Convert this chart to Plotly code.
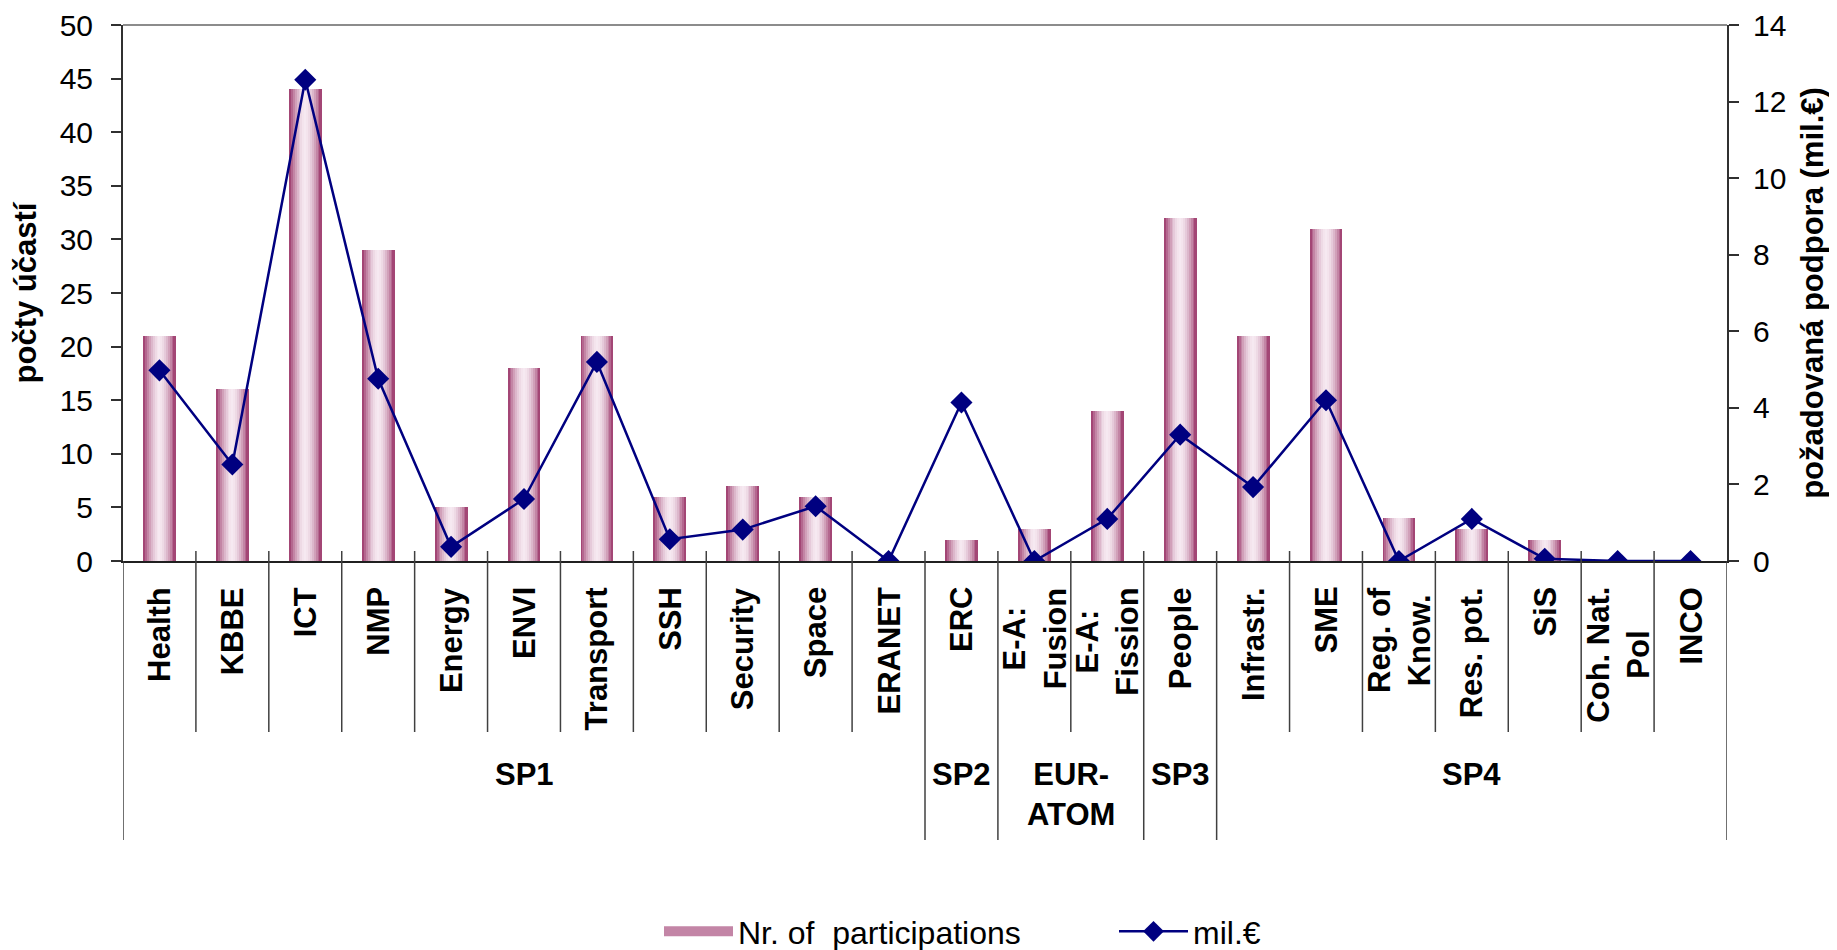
import plotly.graph_objects as go

# ---- data ----
categories = [
    "Health", "KBBE", "ICT", "NMP", "Energy", "ENVI", "Transport", "SSH",
    "Security", "Space", "ERANET", "ERC", "E-A:\nFusion", "E-A:\nFission",
    "People", "Infrastr.", "SME", "Reg. of\nKnow.", "Res. pot.", "SiS",
    "Coh. Nat.\nPol", "INCO",
]
participations = [21, 16, 44, 29, 5, 18, 21, 6, 7, 6, 0, 2, 3, 14, 32, 21, 31, 4, 3, 2, 0, 0]
mil_eur = [4.98, 2.52, 12.57, 4.76, 0.37, 1.62, 5.2, 0.57, 0.82, 1.43, 0, 4.14, 0, 1.1,
           3.3, 1.93, 4.2, 0, 1.1, 0.06, 0, 0]
groups = ["SP1", "SP2", "EUR-\nATOM", "SP3", "SP4"]
group_sizes = [11, 1, 2, 1, 7]
left_ticks = [0, 5, 10, 15, 20, 25, 30, 35, 40, 45, 50]
right_ticks = [0, 2, 4, 6, 8, 10, 12, 14]

# ---- layout constants (page body has an 8px margin) ----
W, H = 1829, 942
ML, MR, MT, MB = 115, 110, 17, 389
PLOT_H = H - MT - MB
PLOT_W = W - ML - MR
FONT = "Arial, Liberation Sans, sans-serif"
DARK = (154, 52, 104)
LIGHT = (246, 233, 241)


def below(px):
    # paper y for a distance in px below the x axis
    return -px / PLOT_H


def mix(f):
    r, g, b = (round(LIGHT[i] + (DARK[i] - LIGHT[i]) * f) for i in range(3))
    return f"rgb({r},{g},{b})"


x_keys = [c.replace("\n", " ") for c in categories]

fig = go.Figure()

# base bar, covered by the gradient strips drawn on top
bar_w = 0.45
fig.add_trace(go.Bar(
    x=x_keys, y=participations, width=bar_w, showlegend=False,
    marker=dict(color=mix(0.6), line=dict(width=0)), legendgroup="bars",
))

n_strips = 17
step = bar_w / n_strips
for i in range(n_strips):
    t = (i + 0.5) / n_strips * 2 - 1
    f = abs(t) ** 1.7
    w = step * 1.6 if i < n_strips - 1 else step
    fig.add_trace(go.Bar(
        x=x_keys, y=participations,
        offset=-bar_w / 2 + i * step, width=w,
        marker=dict(color=mix(f), line=dict(width=0)),
        showlegend=False, legendgroup="bars", hoverinfo="skip",
    ))

# legend entry for the bars (wide swatch)
fig.add_trace(go.Scatter(
    x=[None], y=[None], mode="lines", name="Nr. of  participations",
    line=dict(color=mix(0.55), width=18), legendgroup="bars",
))

fig.add_trace(go.Scatter(
    x=x_keys, y=mil_eur, name="mil.€", yaxis="y2",
    mode="lines+markers",
    line=dict(color="#000080", width=2.5),
    marker=dict(symbol="diamond", size=17, color="#000080"),
))

shapes = [dict(type="line", xref="paper", yref="paper", x0=0, x1=1, y0=1, y1=1,
               line=dict(color="#8c8c8c", width=2))]

# category and group dividers under the axis
group_edges = [0]
for s in group_sizes:
    group_edges.append(group_edges[-1] + s)
for k in range(len(categories) + 1):
    is_group = k in group_edges
    top = 0 if k in (0, len(categories)) else 10 / PLOT_H
    shapes.append(dict(
        type="line", xref="x", yref="paper", x0=k - 0.5, x1=k - 0.5,
        y0=top, y1=below(279 if is_group else 171),
        line=dict(color="#404040", width=1.5),
    ))

annotations = []
for key, label in zip(x_keys, categories):
    annotations.append(dict(
        x=key, xref="x", y=below(24), yref="paper", yanchor="top", xanchor="center",
        text="<b>" + label.replace("\n", "<br>") + "</b>", textangle=-90,
        showarrow=False, font=dict(family=FONT, size=31, color="black"),
    ))
for g, lo, hi in zip(groups, group_edges[:-1], group_edges[1:]):
    annotations.append(dict(
        x=(lo + hi - 1) / 2, xref="x", y=below(194), yref="paper",
        yanchor="top", xanchor="center",
        text="<b>" + g.replace("\n", "<br>") + "</b>",
        showarrow=False, font=dict(family=FONT, size=31, color="black"),
    ))

tick_style = dict(ticklen=10, tickwidth=1.5, tickcolor="#303030",
                  showgrid=False, zeroline=False, automargin=False)

fig.update_layout(
    template="none",
    width=W, height=H,
    margin=dict(l=ML, r=MR, t=MT, b=MB, autoexpand=False),
    paper_bgcolor="white", plot_bgcolor="white",
    barmode="overlay", bargap=0,
    font=dict(family=FONT, size=30, color="black"),
    showlegend=True,
    legend=dict(
        orientation="h", x=(651 - ML) / PLOT_W, xanchor="left",
        y=below(343), yanchor="top",
        font=dict(family=FONT, size=32, color="black"),
        itemwidth=69, entrywidth=371, traceorder="normal",
        bgcolor="rgba(0,0,0,0)",
    ),
    xaxis=dict(
        type="category", range=[-0.5, len(categories) - 0.5],
        showticklabels=False, ticks="", showgrid=False, zeroline=False,
        showline=True, linecolor="#202020", linewidth=2, automargin=False,
    ),
    yaxis=dict(
        range=[0, 50], tickvals=left_ticks, ticks="outside", **tick_style,
        showline=True, linecolor="#303030", linewidth=2,
        tickfont=dict(family=FONT, size=30), ticklabelstandoff=12,
        title=dict(text="<b>počty účastí</b>", font=dict(family=FONT, size=31), standoff=16),
    ),
    yaxis2=dict(
        range=[0, 14], tickvals=right_ticks, overlaying="y", side="right",
        ticks="outside", **tick_style,
        showline=True, linecolor="#303030", linewidth=2, ticklabelstandoff=8,
        tickfont=dict(family=FONT, size=30),
        title=dict(text="<b>požadovaná podpora (mil.€)</b>",
                   font=dict(family=FONT, size=31), standoff=16),
    ),
    # inner halves of the crossing tick marks
    yaxis3=dict(range=[0, 50], tickvals=left_ticks, overlaying="y", side="left",
                ticks="inside", showticklabels=False, showline=False, **tick_style),
    yaxis4=dict(range=[0, 14], tickvals=right_ticks, overlaying="y", side="right",
                ticks="inside", showticklabels=False, showline=False, **tick_style),
    shapes=shapes,
    annotations=annotations,
)

fig.write_html("out.html")
